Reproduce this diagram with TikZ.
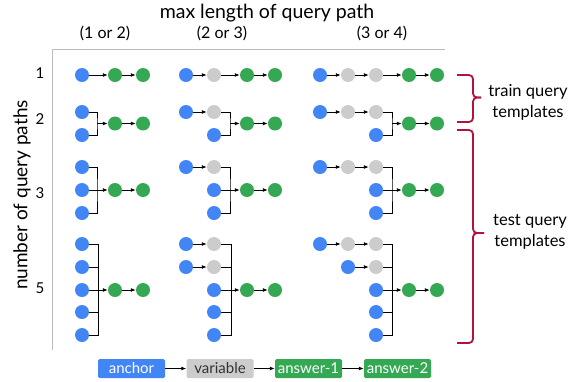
\documentclass[tikz,border=0pt]{standalone}
\usepackage{fontspec}
\setmainfont{Lato}
\usepackage{tikz}
\usetikzlibrary{arrows.meta}

\definecolor{anchorblue}{HTML}{4285F4}
\definecolor{vargray}{HTML}{CCCCCC}
\definecolor{answergreen}{HTML}{34A853}
\definecolor{bracered}{HTML}{B3123B}
\definecolor{framegray}{HTML}{BBBBBB}

\tikzset{
  anc/.style={circle,fill=anchorblue,minimum size=14pt,inner sep=0pt},
  var/.style={circle,fill=vargray,minimum size=14pt,inner sep=0pt},
  ans/.style={circle,fill=answergreen,minimum size=14pt,inner sep=0pt},
  arr/.style={-{Latex[length=5pt,width=4pt]},line width=0.9pt},
  bar/.style={line width=0.9pt},
  brc/.style={bracered,line width=1.8pt,rounded corners=4pt},
  legbox/.style={rounded corners=1.5pt,minimum width=67pt,minimum height=19pt,inner sep=0pt,font=\fontsize{15}{17}\selectfont}
}

\begin{document}
\begin{tikzpicture}[x=1pt,y=-1pt]
\useasboundingbox (0,0) rectangle (585,381);
% axes and headings
\draw[framegray,line width=1pt] (52,350) -- (52,49) -- (445,49);
\node (title) at (267,13) {\fontsize{19.5}{22}\selectfont max length of query path};
\node (lenA) at (105,33) {\fontsize{16}{18}\selectfont (1 or 2)};
\node (lenB) at (222,33) {\fontsize{16}{18}\selectfont (2 or 3)};
\node (lenC) at (382,33) {\fontsize{16}{18}\selectfont (3 or 4)};
\node[rotate=90] (ylab) at (22,195) {\fontsize{19}{22}\selectfont number of query paths};
\node (n1) at (40,73) {\fontsize{15}{17}\selectfont 1};
\node (n2) at (40,119) {\fontsize{15}{17}\selectfont 2};
\node (n3) at (40,193) {\fontsize{15}{17}\selectfont 3};
\node (n5) at (40,288) {\fontsize{15}{17}\selectfont 5};

% column A, one path
\node[anc] (a1p) at (82,75) {};
\node[ans] (a1q) at (115,75) {};
\node[ans] (a1r) at (143,75) {};
\draw[arr] (a1p) -- (a1q);
\draw[arr] (a1q) -- (a1r);
% column A, two paths
\node[anc] (a2p) at (82,112) {};
\node[anc] (a2s) at (82,135) {};
\coordinate (a2j) at (97,123.5);
\node[ans] (a2q) at (115,123.5) {};
\node[ans] (a2r) at (143,123.5) {};
\draw[bar] (a2p.east) -| (a2j) |- (a2s.east);
\draw[arr] (a2j) -- (a2q);
\draw[arr] (a2q) -- (a2r);
% column A, three paths
\node[anc] (a3p) at (82,167) {};
\node[anc] (a3s) at (82,190) {};
\node[anc] (a3t) at (82,213) {};
\coordinate (a3j) at (97,190);
\node[ans] (a3q) at (115,190) {};
\node[ans] (a3r) at (143,190) {};
\draw[bar] (a3p.east) -| (a3j) |- (a3t.east);
\draw[arr] (a3s) -- (a3q);
\draw[arr] (a3q) -- (a3r);
% column A, five paths
\foreach \i/\y in {1/244,2/267,3/290,4/312,5/335}
  \node[anc] (a5s\i) at (82,\y) {};
\coordinate (a5j) at (98,290);
\node[ans] (a5q) at (115,290) {};
\node[ans] (a5r) at (143,290) {};
\draw[bar] (a5s1.east) -| (a5j) |- (a5s5.east);
\draw[bar] (a5s2.east) -| (a5j);
\draw[bar] (a5s4.east) -| (a5j);
\draw[arr] (a5s3) -- (a5q);
\draw[arr] (a5q) -- (a5r);

% column B, one path
\node[anc] (b1p) at (186,75) {};
\node[var] (b1v) at (214,75) {};
\node[ans] (b1q) at (247,75) {};
\node[ans] (b1r) at (275,75) {};
\draw[arr] (b1p) -- (b1v);
\draw[arr] (b1v) -- (b1q);
\draw[arr] (b1q) -- (b1r);
% column B, two paths
\node[anc] (b2p) at (186,112) {};
\node[var] (b2v) at (214,112) {};
\node[anc] (b2s) at (214,135) {};
\coordinate (b2j) at (230,123.5);
\node[ans] (b2q) at (247,123.5) {};
\node[ans] (b2r) at (275,123.5) {};
\draw[arr] (b2p) -- (b2v);
\draw[bar] (b2v.east) -| (b2j) |- (b2s.east);
\draw[arr] (b2j) -- (b2q);
\draw[arr] (b2q) -- (b2r);
% column B, three paths
\node[anc] (b3p) at (186,167) {};
\node[var] (b3v) at (214,167) {};
\node[anc] (b3s) at (214,190) {};
\node[anc] (b3t) at (214,213) {};
\coordinate (b3j) at (230,190);
\node[ans] (b3q) at (247,190) {};
\node[ans] (b3r) at (275,190) {};
\draw[arr] (b3p) -- (b3v);
\draw[bar] (b3v.east) -| (b3j) |- (b3t.east);
\draw[arr] (b3s) -- (b3q);
\draw[arr] (b3q) -- (b3r);
% column B, five paths
\node[anc] (b5p1) at (186,244) {};
\node[var] (b5v1) at (214,244) {};
\node[anc] (b5p2) at (186,267) {};
\node[var] (b5v2) at (214,267) {};
\foreach \i/\y in {3/290,4/312,5/335}
  \node[anc] (b5s\i) at (214,\y) {};
\coordinate (b5j) at (231,290);
\node[ans] (b5q) at (247,290) {};
\node[ans] (b5r) at (275,290) {};
\draw[arr] (b5p1) -- (b5v1);
\draw[arr] (b5p2) -- (b5v2);
\draw[bar] (b5v1.east) -| (b5j) |- (b5s5.east);
\draw[bar] (b5v2.east) -| (b5j);
\draw[bar] (b5s4.east) -| (b5j);
\draw[arr] (b5s3) -- (b5q);
\draw[arr] (b5q) -- (b5r);

% column C, one path
\node[anc] (c1p) at (320,75) {};
\node[var] (c1v) at (348,75) {};
\node[var] (c1w) at (376,75) {};
\node[ans] (c1q) at (409,75) {};
\node[ans] (c1r) at (437,75) {};
\draw[arr] (c1p) -- (c1v);
\draw[arr] (c1v) -- (c1w);
\draw[arr] (c1w) -- (c1q);
\draw[arr] (c1q) -- (c1r);
% column C, two paths
\node[anc] (c2p) at (320,112) {};
\node[var] (c2v) at (348,112) {};
\node[var] (c2w) at (376,112) {};
\node[anc] (c2s) at (376,135) {};
\coordinate (c2j) at (392,123.5);
\node[ans] (c2q) at (409,123.5) {};
\node[ans] (c2r) at (437,123.5) {};
\draw[arr] (c2p) -- (c2v);
\draw[arr] (c2v) -- (c2w);
\draw[bar] (c2w.east) -| (c2j) |- (c2s.east);
\draw[arr] (c2j) -- (c2q);
\draw[arr] (c2q) -- (c2r);
% column C, three paths
\node[anc] (c3p) at (320,167) {};
\node[var] (c3v) at (348,167) {};
\node[var] (c3w) at (376,167) {};
\node[anc] (c3s) at (376,190) {};
\node[anc] (c3t) at (376,213) {};
\coordinate (c3j) at (392,190);
\node[ans] (c3q) at (409,190) {};
\node[ans] (c3r) at (437,190) {};
\draw[arr] (c3p) -- (c3v);
\draw[arr] (c3v) -- (c3w);
\draw[bar] (c3w.east) -| (c3j) |- (c3t.east);
\draw[arr] (c3s) -- (c3q);
\draw[arr] (c3q) -- (c3r);
% column C, five paths
\node[anc] (c5p1) at (320,244) {};
\node[var] (c5v1) at (348,244) {};
\node[var] (c5w1) at (376,244) {};
\node[anc] (c5p2) at (348,267) {};
\node[var] (c5w2) at (376,267) {};
\foreach \i/\y in {3/290,4/312,5/335}
  \node[anc] (c5s\i) at (376,\y) {};
\coordinate (c5j) at (392,290);
\node[ans] (c5q) at (409,290) {};
\node[ans] (c5r) at (437,290) {};
\draw[arr] (c5p1) -- (c5v1);
\draw[arr] (c5v1) -- (c5w1);
\draw[arr] (c5p2) -- (c5w2);
\draw[bar] (c5w1.east) -| (c5j) |- (c5s5.east);
\draw[bar] (c5w2.east) -| (c5j);
\draw[bar] (c5s4.east) -| (c5j);
\draw[arr] (c5s3) -- (c5q);
\draw[arr] (c5q) -- (c5r);

% braces
\coordinate (trtip) at (481,97.5);
\coordinate (tetip) at (484,233);
\draw[brc] (457,75) -| (473,97.5) -- (trtip);
\draw[brc] (457,122) -| (473,97.5) -- (trtip);
\draw[brc] (457,130) -| (473,233) -- (tetip);
\draw[brc] (457,343) -| (473,233) -- (tetip);
\node[align=center,font=\fontsize{16.5}{21}\selectfont] (train) at (528,102) {train query\\templates};
\node[align=center,font=\fontsize{16.5}{21}\selectfont] (test) at (530,232) {test query\\templates};

% legend
\node[legbox,fill=anchorblue,text=white] (leganc) at (131.5,368.5) {anchor};
\node[legbox,fill=vargray,text=black!80] (legvar) at (220,368.5) {variable};
\node[legbox,fill=answergreen,text=white] (legans1) at (308.5,368.5) {answer-1};
\node[legbox,fill=answergreen,text=white] (legans2) at (397.5,368.5) {answer-2};
\draw[arr] (leganc) -- (legvar);
\draw[arr] (legvar) -- (legans1);
\draw[arr] (legans1) -- (legans2);
\end{tikzpicture}
\end{document}
